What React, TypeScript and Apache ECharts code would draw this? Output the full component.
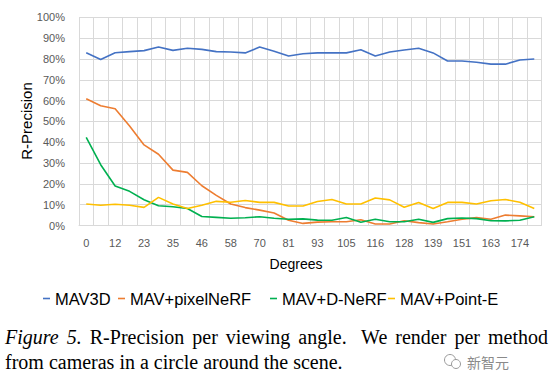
import React, { useEffect, useRef } from "react";
import * as echarts from "echarts";

const degrees = ["0","6","12","17","23","29","35","41","46","52","58","64","70","75","81","87","93","99","105","110","116","122","128","133","139","145","151","157","163","168","174","180"];

const mav3d = [83.0, 79.7, 83.0, 83.5, 84.0, 85.7, 84.1, 85.1, 84.6, 83.5, 83.3, 82.9, 85.7, 83.7, 81.4, 82.5, 82.9, 82.9, 82.9, 84.4, 81.4, 83.3, 84.3, 85.1, 82.9, 79.0, 79.0, 78.4, 77.5, 77.5, 79.5, 80.0];
const pixelNeRF = [60.9, 57.5, 56.1, 47.8, 38.7, 34.2, 26.6, 25.5, 19.1, 14.5, 10.3, 8.6, 7.4, 6.0, 2.5, 1.0, 1.6, 1.8, 1.8, 2.8, 0.7, 0.7, 2.3, 1.4, 0.7, 1.8, 3.0, 3.8, 3.0, 5.0, 4.6, 4.2];
const dNeRF = [42.3, 29.2, 19.0, 16.4, 12.4, 9.5, 9.0, 8.2, 4.3, 3.9, 3.5, 3.7, 4.2, 3.5, 3.0, 3.2, 2.6, 2.5, 3.8, 1.6, 3.0, 1.8, 1.8, 3.0, 1.5, 3.3, 3.6, 3.3, 2.3, 2.2, 2.5, 4.2];
const pointE = [10.3, 9.7, 10.2, 9.7, 8.7, 13.5, 10.3, 8.2, 9.7, 11.6, 11.2, 12.0, 11.1, 11.1, 9.4, 9.4, 11.5, 12.5, 10.3, 10.3, 13.2, 12.3, 8.8, 11.1, 8.2, 11.1, 11.1, 10.3, 11.9, 12.5, 11.2, 8.2];

const seriesNames = ["MAV3D", "MAV+pixelNeRF", "MAV+D-NeRF", "MAV+Point-E"];
const seriesColors = ["#4472C4", "#ED7D31", "#00B050", "#FFC000"];
const legendLefts = [38, 113, 265, 383];

const captionLine1 = ["Figure", "5.", "R-Precision", "per", "viewing", "angle.", "We", "render", "per", "method"];
const captionItalicCount = 2;
const captionLine2 = "from cameras in a circle around the scene.";

export default function App() {
  const ref = useRef<HTMLDivElement>(null);
  useEffect(() => {
    if (!ref.current) return;
    const chart = echarts.init(ref.current, null, { renderer: "svg" });
    const data = [mav3d, pixelNeRF, dNeRF, pointE];
    const sans = "Liberation Sans, Arial, sans-serif";
    const serif = "Liberation Serif, Times New Roman, serif";
    const fs = 20;

    // justify caption line 1 between x=5 and x=548
    const cv = document.createElement("canvas").getContext("2d") as CanvasRenderingContext2D;
    const widths = captionLine1.map((w, i) => {
      cv.font = (i < captionItalicCount ? "italic " : "") + fs + "px " + serif;
      return cv.measureText(w).width;
    });
    const total = widths.reduce((a, b) => a + b, 0);
    const gapWeights = captionLine1.slice(0, -1).map((w) => (w.endsWith(".") && w !== "5." ? 1.8 : 1));
    const weightSum = gapWeights.reduce((a, b) => a + b, 0);
    const unit = (543 - total) / weightSum;
    let cx = 5;
    const captionWords: any[] = captionLine1.map((w, i) => {
      const el = {
        type: "text",
        x: cx,
        y: 347,
        style: {
          text: w,
          fontSize: fs,
          fontStyle: i < captionItalicCount ? "italic" : "normal",
          fill: "#000",
          fontFamily: serif,
          verticalAlign: "bottom",
        },
      };
      cx += widths[i] + (i < gapWeights.length ? gapWeights[i] * unit : 0);
      return el;
    });

    chart.setOption({
      animation: false,
      backgroundColor: "#ffffff",
      grid: { left: 79, right: 7.5, top: 17.3, bottom: 159.5, containLabel: false },
      legend: seriesNames.map((name, i) => ({
        left: legendLefts[i],
        top: 285,
        itemWidth: 7,
        itemHeight: 1.6,
        icon: "rect",
        textStyle: { fontSize: 16.5, color: "#000", fontFamily: sans },
        data: [name],
      })),
      xAxis: {
        type: "category",
        data: degrees,
        boundaryGap: true,
        axisTick: { show: false },
        axisLine: { lineStyle: { color: "#d9d9d9", width: 1 } },
        splitLine: { show: true, interval: 0, lineStyle: { color: "#d9d9d9", width: 1 } },
        axisLabel: { interval: 1, margin: 12, fontSize: 11, color: "#595959", fontFamily: sans },
      },
      yAxis: {
        type: "value",
        min: 0,
        max: 100,
        interval: 10,
        axisLine: { show: false },
        axisTick: { show: false },
        splitLine: { lineStyle: { color: "#d9d9d9", width: 1 } },
        axisLabel: { formatter: "{value}%", margin: 14, fontSize: 11, color: "#595959", fontFamily: sans },
      },
      series: seriesNames.map((name, i) => ({
        name,
        type: "line",
        data: data[i],
        symbol: "none",
        color: seriesColors[i],
        lineStyle: { width: 1.6, color: seriesColors[i] },
      })),
      graphic: [
        {
          type: "text",
          x: 26,
          y: 121,
          rotation: Math.PI / 2,
          style: { text: "R-Precision", fontSize: 15, fill: "#000", fontFamily: sans, align: "center", verticalAlign: "middle" },
        },
        {
          type: "text",
          x: 296,
          y: 264,
          style: { text: "Degrees", fontSize: 14, fill: "#000", fontFamily: sans, align: "center", verticalAlign: "middle" },
        },
        ...captionWords,
        {
          type: "text",
          x: 5,
          y: 372,
          style: {
            text: captionLine2,
            fontSize: fs,
            fill: "#000",
            fontFamily: serif,
            verticalAlign: "bottom",
          },
        },
        { type: "circle", shape: { cx: 450, cy: 360, r: 5.5 }, style: { fill: "none", stroke: "#9a9a9a", lineWidth: 1 } },
        { type: "circle", shape: { cx: 456, cy: 364, r: 4.5 }, style: { fill: "#fff", stroke: "#9a9a9a", lineWidth: 1 } },
        {
          type: "text",
          x: 467,
          y: 362,
          style: { text: "新智元", fontSize: 14, fill: "#8a8a8a", fontFamily: "Noto Sans CJK SC", verticalAlign: "middle" },
        },
      ],
    });
    return () => chart.dispose();
  }, []);
  return <div ref={ref} style={{ width: 549, height: 385, position: "absolute", left: 0, top: 0 }} />;
}
